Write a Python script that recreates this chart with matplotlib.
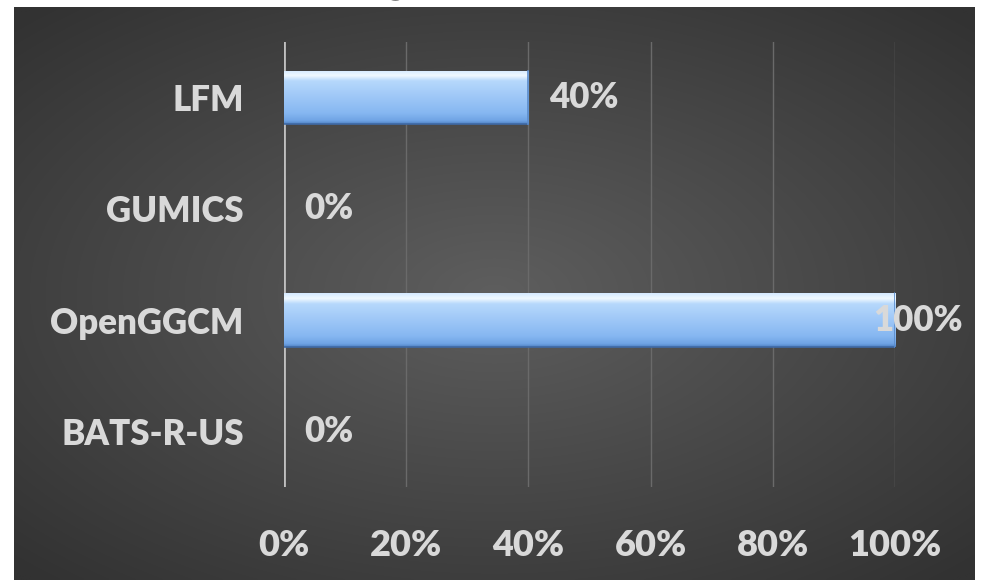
import numpy as np
import matplotlib
matplotlib.use("Agg")
import matplotlib.pyplot as plt
from matplotlib.colors import LinearSegmentedColormap, to_rgb

plt.rcParams['font.family'] = ['Lato', 'DejaVu Sans']

models = ['BATS-R-US', 'OpenGGCM', 'GUMICS', 'LFM']
share = [0, 100, 0, 40]
ticks = [0, 20, 40, 60, 80, 100]

W, H, DPI = 982, 580, 100
fig = plt.figure(figsize=(W / DPI, H / DPI), dpi=DPI, facecolor='white')

# dark panel with a soft radial glow
px0, px1, py0, py1 = 14, 975, 7, 580
bg = fig.add_axes([px0 / W, 1 - py1 / H, (px1 - px0) / W, (py1 - py0) / H])
bg.set_axis_off()
gx, gy = np.meshgrid(np.linspace(-1, 1, 400), np.linspace(-1, 1, 240))
r = np.clip(np.hypot(gx * 0.95, gy) / 1.35, 0, 1)
c_in, c_out = np.array(to_rgb('#5e5e5e')), np.array(to_rgb('#323232'))
img = c_in[None, None, :] * (1 - r[..., None]) + c_out[None, None, :] * r[..., None]
bg.imshow(img, aspect='auto', extent=[0, 1, 0, 1], interpolation='bilinear')
bg.set_xlim(0, 1)
bg.set_ylim(0, 1)

# title sits above the panel, mostly outside the canvas
fig.text(0.447, 1 + 7 / H, 'Model Ranking: Overall Accuracy', ha='center',
         va='baseline', fontsize=32, fontweight='bold', color='black')

ax = fig.add_axes([284 / W, 1 - 487 / H, 611 / W, 445 / H])
ax.set_facecolor('none')
ax.set_xlim(0, 100)
ax.set_ylim(-0.5, len(models) - 0.5)

y = np.arange(len(models))
bars = ax.barh(y, share, height=0.48, color='#9fc7f6', edgecolor='none', zorder=3)

# glossy vertical gradient inside each bar
shade = LinearSegmentedColormap.from_list('gloss', [
    (0.0, '#4f80c2'), (0.06, '#6fa3e4'), (0.2, '#86b7f1'), (0.55, '#a2caf8'),
    (0.8, '#b6d8fc'), (0.9, '#f0f9ff'), (1.0, '#d4e9ff')])
grad = np.linspace(0, 1, 256)[:, None]
for b in bars:
    w = b.get_width()
    if w <= 0:
        continue
    x0, y0, h = b.get_x(), b.get_y(), b.get_height()
    im = ax.imshow(grad, cmap=shade, origin='lower', aspect='auto',
                   extent=[x0, x0 + w, y0, y0 + h], zorder=4)
    im.set_clip_path(b)
    ax.plot([x0, x0 + w], [y0, y0], color='#3f6aa6', lw=1.2, zorder=5)
    ax.plot([x0 + w, x0 + w], [y0, y0 + h], color='#5a8ccc', lw=1.2, zorder=5)

# value labels
for yi, v in zip(y, share):
    ax.text(min(v + 3.3, 96.4), yi, f'{v}%', ha='left', va='center',
            fontsize=25, fontweight='heavy', color='#d9d9d9', zorder=6)

ax.set_xticks(ticks)
ax.set_xticklabels([f'{t}%' for t in ticks])
ax.set_yticks(y)
ax.set_yticklabels(models)
ax.tick_params(axis='x', length=0, pad=30, labelsize=26, labelcolor='#d9d9d9')
ax.tick_params(axis='y', length=0, pad=29, labelsize=25, labelcolor='#d9d9d9')
for lab in ax.get_xticklabels() + ax.get_yticklabels():
    lab.set_fontweight('heavy')

ax.grid(axis='x', color='#6a6a6a', lw=1, zorder=1)
ax.axvline(0, color='#bfbfbf', lw=2, zorder=2)
for s in ax.spines.values():
    s.set_visible(False)

fig.savefig('out.png', dpi=DPI, facecolor='white')
